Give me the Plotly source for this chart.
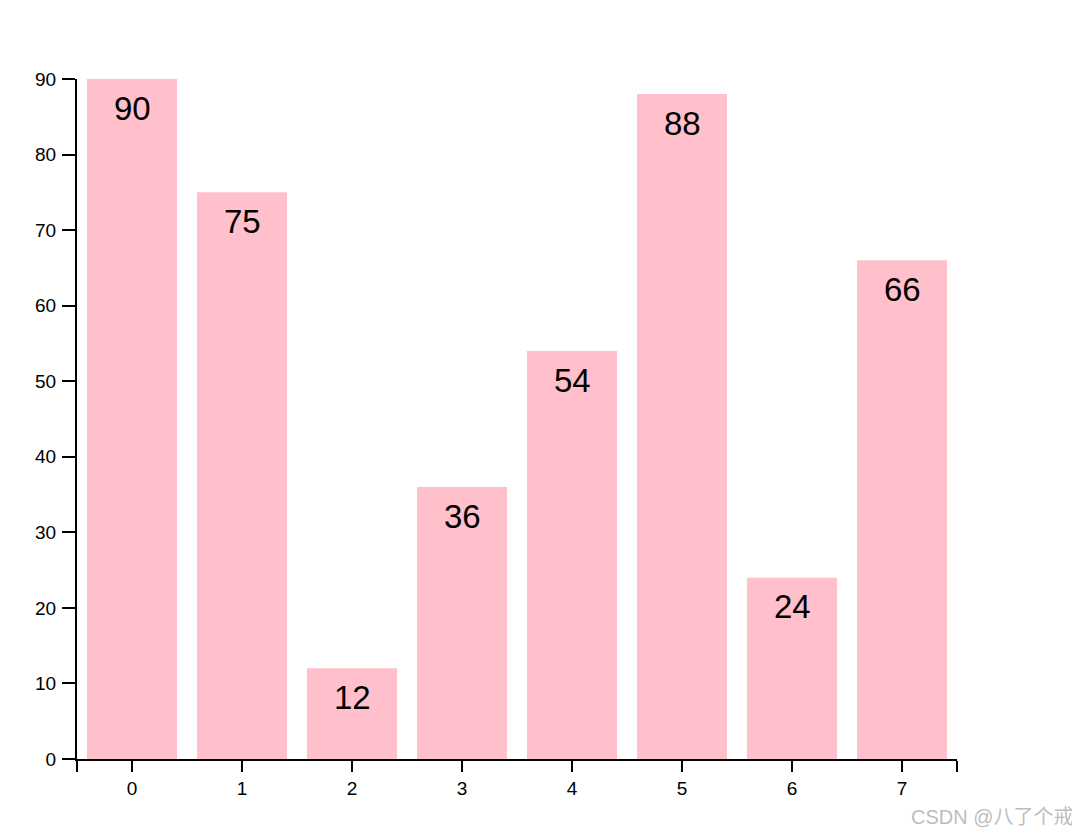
import plotly.graph_objects as go

categories = [0, 1, 2, 3, 4, 5, 6, 7]
values = [90, 75, 12, 36, 54, 88, 24, 66]
y_ticks = [0, 10, 20, 30, 40, 50, 60, 70, 80, 90]

# the HTML body has an 8px default margin, so the figure is 8px smaller
W, H = 1072, 826
ML, MT = 69, 71
PW, PH = 880, 680

fig = go.Figure()
fig.add_trace(go.Bar(
    x=categories, y=values,
    marker=dict(color="#FFC0CB", line=dict(width=0)),
    hoverinfo="skip",
))

for c, v in zip(categories, values):
    fig.add_annotation(
        x=c, y=v, text=str(v), showarrow=False,
        yanchor="middle", yshift=-29,
        font=dict(family="Liberation Sans, Arial, sans-serif", size=33, color="black"),
    )

fig.add_annotation(
    xref="paper", yref="paper",
    x=(1068 - ML) / PW, y=-(809 - MT - PH) / PH,
    xanchor="right", yanchor="middle", showarrow=False,
    text="CSDN @八了个戒",
    font=dict(family="Liberation Sans, Noto Sans CJK SC, sans-serif", size=20, color="#bdbdbd"),
)

xtickvals = [-0.5] + categories + [7.5]
xticktext = [""] + [str(c) for c in categories] + [""]

fig.update_layout(
    width=W, height=H,
    margin=dict(l=ML, r=W - ML - PW, t=MT, b=H - MT - PH),
    paper_bgcolor="white", plot_bgcolor="white",
    bargap=20/110,
    showlegend=False,
    font=dict(family="Liberation Sans, Arial, sans-serif", size=19, color="black"),
    xaxis=dict(
        range=[-0.5, 7.5], tickmode="array", tickvals=xtickvals, ticktext=xticktext,
        showline=True, linecolor="black", linewidth=2,
        ticks="outside", ticklen=11, tickwidth=2, tickcolor="black",
        showgrid=False, zeroline=False, ticklabelstandoff=0,
    ),
    yaxis=dict(
        range=[0, 90], tickmode="array", tickvals=y_ticks,
        showline=True, linecolor="black", linewidth=2,
        ticks="outside", ticklen=13, tickwidth=1.5, tickcolor="black",
        showgrid=False, zeroline=False, ticklabelstandoff=2,
    ),
)

fig.write_html("out.html")
